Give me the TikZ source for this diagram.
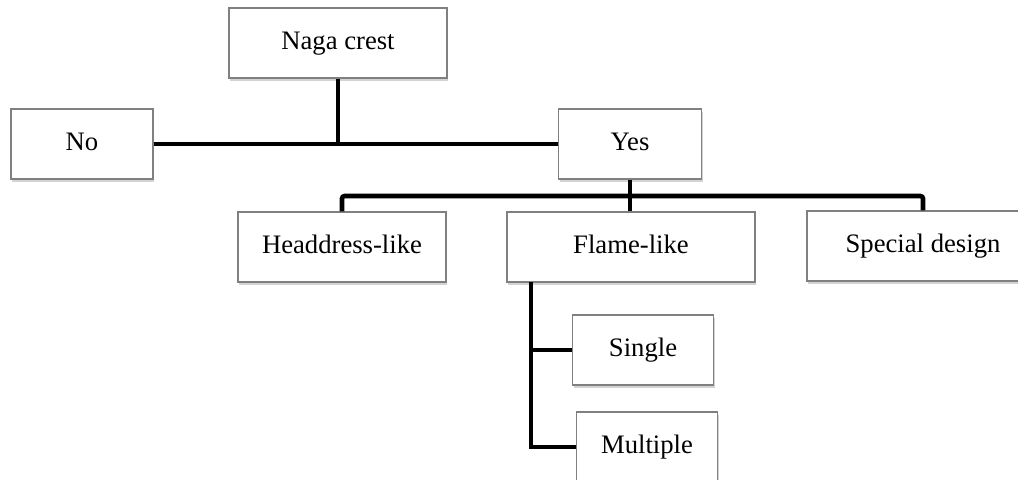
\documentclass[tikz,border=0pt]{standalone}
\usepackage{fontspec}
\setmainfont{Liberation Serif}
\usetikzlibrary{shadows}

\tikzset{box/.style={draw=gray,line width=.8pt,fill=white,minimum height=52.5pt,inner sep=0pt,
  text height=13.5pt,text depth=4.5pt,
  font=\fontsize{20}{24}\selectfont,drop shadow={shadow xshift=1pt,shadow yshift=-2.5pt,opacity=.35}},
  link/.style={line width=3.5pt}}

\begin{document}
\begin{tikzpicture}[x=.75pt,y=-.75pt]
\useasboundingbox (0,0) rectangle (1018,479);
\foreach \n/\x/\y/\w/\t in {naga/338/43/218/Naga crest,no/82/144/142/No,yes/630/144/143/Yes,
  head/342/247/208/Headdress-like,flame/631/247/248/Flame-like,special/923/246/232/Special design,
  single/643/350/141/Single,multi/647/447/141/Multiple}{
\node[box,minimum width=\w*.75pt] (\n) at (\x,\y) {\t};}
\coordinate (bus) at (0,196);
\coordinate (stem) at (531,282);
\draw[link] (no.east)--(yes.west);
\draw[link] (naga.south)--(naga.south |- no.east);
\draw[link] (yes.south)--(yes.south |- flame.north);
\draw[link,rounded corners=2pt] (head.north) |- (bus -| special.north)--(special.north);
\draw[link] (stem) |- (single.west);
\draw[link] (stem) |- (multi.west);
\end{tikzpicture}
\end{document}
